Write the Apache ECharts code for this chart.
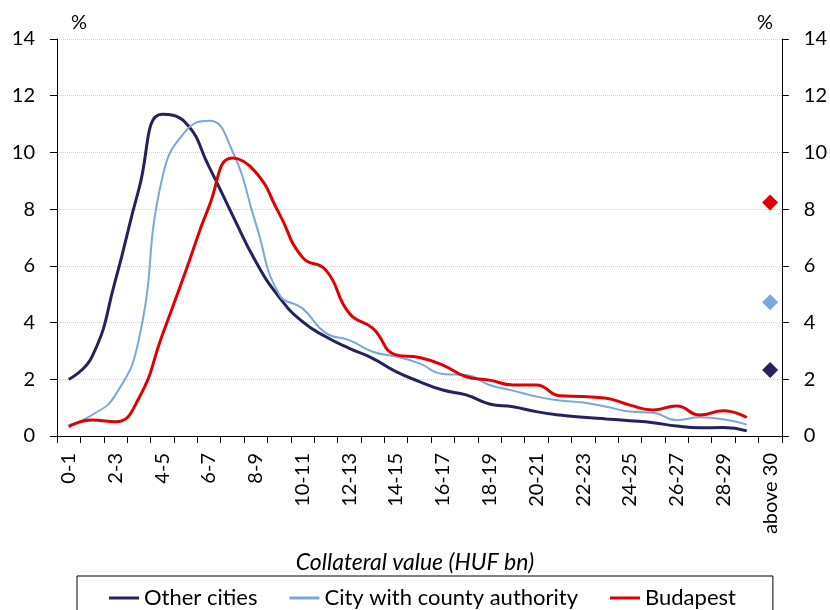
<!DOCTYPE html>
<html><head><meta charset="utf-8">
<script src="https://cdn.jsdelivr.net/npm/echarts@6/dist/echarts.min.js"></script>
<style>html,body{margin:0;padding:0;background:#fff}#c{width:830px;height:610px}</style>
</head><body><div id="c"></div>
<script>
const categories = ['0-1','1-2','2-3','3-4','4-5','5-6','6-7','7-8','8-9','9-10','10-11','11-12','12-13','13-14','14-15','15-16','16-17','17-18','18-19','19-20','20-21','21-22','22-23','23-24','24-25','25-26','26-27','27-28','28-29','29-30','above 30'];
const seriesNames = ['Other cities','City with county authority','Budapest'];
const otherCities = [2.0, 2.8, 5.5, 8.7, 11.35, 11.05, 9.5, 7.8, 6.15, 4.9, 4.03, 3.5, 3.09, 2.74, 2.27, 1.92, 1.62, 1.45, 1.13, 1.03, 0.86, 0.74, 0.66, 0.6, 0.54, 0.47, 0.35, 0.29, 0.3, 0.18];
const countyCities = [0.39, 0.74, 1.45, 3.4, 9.1, 10.75, 11.12, 10.05, 7.5, 5.0, 4.5, 3.63, 3.38, 2.97, 2.8, 2.56, 2.19, 2.15, 1.8, 1.6, 1.39, 1.25, 1.18, 1.03, 0.86, 0.82, 0.56, 0.66, 0.59, 0.4];
const budapest = [0.33, 0.56, 0.5, 1.33, 3.55, 5.8, 8.09, 9.8, 9.3, 7.85, 6.3, 5.85, 4.33, 3.8, 2.86, 2.77, 2.5, 2.09, 1.97, 1.8, 1.8, 1.42, 1.39, 1.33, 1.09, 0.92, 1.06, 0.74, 0.89, 0.65];
const above30 = [2.33, 4.72, 8.23];
const colors = ['#24225E', '#7BA7DA', '#E00000'];
const lineWidths = [3, 2, 3];
const yMin = 0, yMax = 14, yStep = 2;

const font = 'Lato';
const chart = echarts.init(document.getElementById('c'));
const lineData = [otherCities, countyCities, budapest];
const zs = [3, 4, 5];
const series = [];
lineData.forEach((d, i) => {
  series.push({
    name: seriesNames[i], type: 'line', data: d, smooth: 0.5, symbol: 'none',
    lineStyle: { color: colors[i], width: lineWidths[i] }, itemStyle: { color: colors[i] },
    z: zs[i]
  });
});
above30.forEach((v, i) => {
  series.push({
    name: seriesNames[i] + ' (above 30)', type: 'scatter', symbol: 'diamond', symbolSize: 16,
    data: [[categories.length - 1, v]], itemStyle: { color: colors[i], opacity: 1 }, z: 6
  });
});
const yAxisCommon = {
  type: 'value', min: yMin, max: yMax, interval: yStep,
  axisLine: { show: true, lineStyle: { color: '#000', width: 1 } },
  axisTick: { show: true, length: 7, lineStyle: { color: '#000' } },
  axisLabel: { fontFamily: font, fontSize: 20, color: '#000', margin: 22 }
};
chart.setOption({
  animation: false,
  backgroundColor: '#fff',
  grid: { left: 57, right: 48, top: 39, bottom: 174 },
  xAxis: [{
    type: 'category', data: categories, boundaryGap: true,
    axisLine: { lineStyle: { color: '#000', width: 1 } },
    axisTick: { show: true, interval: 0, length: 7, lineStyle: { color: '#000' } },
    axisLabel: { interval: 1, rotate: 90, fontFamily: font, fontSize: 20, color: '#000', margin: 17 }
  }, {
    type: 'category', data: categories, position: 'top', boundaryGap: true,
    axisLine: { show: true, lineStyle: { color: '#000', width: 1 } },
    axisTick: { show: false }, axisLabel: { show: false }, splitLine: { show: false }
  }],
  yAxis: [
    Object.assign({}, yAxisCommon, { position: 'left',
      splitLine: { show: true, lineStyle: { color: '#cfcfcf', type: 'dotted', width: 1 } } }),
    Object.assign({}, yAxisCommon, { position: 'right', splitLine: { show: false } })
  ],
  legend: {
    data: seriesNames.map(n => ({ name: n, icon: 'rect' })),
    left: 77, top: 576, padding: [11, 37, 20, 32], itemGap: 32,
    itemWidth: 30, itemHeight: 3,
    borderColor: '#000', borderWidth: 1,
    textStyle: { fontFamily: font, fontSize: 22, color: '#000' }
  },
  graphic: [
    { type: 'text', left: 71, top: 13, style: { text: '%', font: '20px Lato', fill: '#000' } },
    { type: 'text', left: 757, top: 13, style: { text: '%', font: '20px Lato', fill: '#000' } },
    { type: 'text', left: 'center', top: 551, style: { text: 'Collateral value (HUF bn)', font: 'italic 23px Lato', fill: '#000' } }
  ],
  series: series
});
</script></body></html>
